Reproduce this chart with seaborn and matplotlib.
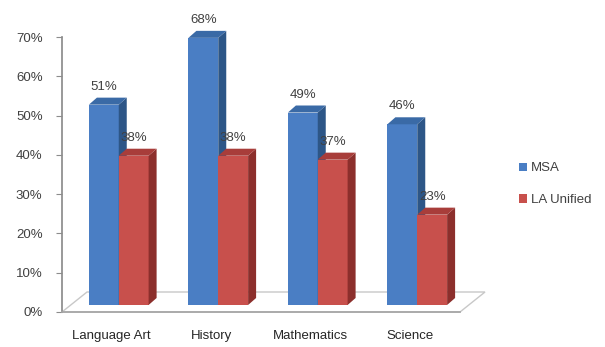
import matplotlib
matplotlib.use("Agg")
import matplotlib.pyplot as plt
import matplotlib.transforms as mtrans
from matplotlib.patches import Polygon, Rectangle
import seaborn as sns
import pandas as pd

categories = ["Language Art", "History", "Mathematics", "Science"]
series = ["MSA", "LA Unified"]
msa = [0.51, 0.68, 0.49, 0.46]
la_unified = [0.38, 0.38, 0.37, 0.23]
y_ticks = [0, 0.1, 0.2, 0.3, 0.4, 0.5, 0.6, 0.7]

df = pd.DataFrame({
    "Subject": categories * 2,
    "Series": [series[0]] * 4 + [series[1]] * 4,
    "Value": msa + la_unified,
})

sns.set_theme(style="white")
plt.rcParams["font.family"] = ["Liberation Sans", "DejaVu Sans"]

W, H, DPI = 605, 347, 100
fig = plt.figure(figsize=(W / DPI, H / DPI), dpi=DPI)
ax_l, ax_r, ax_b, ax_t = 62 / W, 460 / W, 1 - 312 / H, 1 - 37 / H
ax = fig.add_axes([ax_l, ax_b, ax_r - ax_l, ax_t - ax_b])

front = {"MSA": "#4a7ec4", "LA Unified": "#c8504c"}
side = {"MSA": "#2d5687", "LA Unified": "#8c2f2c"}
top = {"MSA": "#3a6aa6", "LA Unified": "#a83d3a"}

sns.barplot(data=df, x="Subject", y="Value", hue="Series", order=categories,
            hue_order=series, palette=front, width=0.6, saturation=1,
            errorbar=None, legend=False, ax=ax)

ax.set_xlim(-0.5, 3.5)
ax.set_ylim(0, 0.7)

# pixel -> data conversion
px_x = (ax_r - ax_l) * W / 4.0
px_y = (ax_t - ax_b) * H / 0.7

def dx(p):
    return p / px_x

def dy(p):
    return p / px_y

# floor (parallelogram in front of the 0 line)
fd_x, fd_y = 25, 20
floor = Polygon([(-0.5, 0), (3.5, 0), (3.5 + dx(fd_x), dy(fd_y)), (-0.5 + dx(fd_x), dy(fd_y))],
                closed=True, facecolor="white", edgecolor="#c8c8c8", lw=1.0,
                zorder=0.5, clip_on=False)
ax.add_patch(floor)

# bars shifted into the floor, with 3D faces
shift = mtrans.ScaledTranslation(7 / DPI, 7 / DPI, fig.dpi_scale_trans)
tr = ax.transData + shift
depth_x, depth_y = dx(8), dy(7)

bar_patches = [p for p in list(ax.patches) if isinstance(p, Rectangle) and p.get_height() > 0]
for i, p in enumerate(bar_patches):
    s = series[0] if i < len(categories) else series[1]
    z = 2 if s == series[0] else 3
    p.set_transform(tr)
    p.set_zorder(z)
    p.set_clip_on(False)
    p.set_edgecolor("none")
    x0 = p.get_x()
    x1 = x0 + p.get_width()
    h = p.get_height()
    sidep = Polygon([(x1, 0), (x1 + depth_x, depth_y), (x1 + depth_x, h + depth_y), (x1, h)],
                    closed=True, facecolor=side[s], edgecolor="none", transform=tr,
                    zorder=z, clip_on=False)
    topp = Polygon([(x0, h), (x1, h), (x1 + depth_x, h + depth_y), (x0 + depth_x, h + depth_y)],
                   closed=True, facecolor=top[s], edgecolor="none", transform=tr,
                   zorder=z, clip_on=False)
    ax.add_patch(sidep)
    ax.add_patch(topp)
    ax.annotate(f"{round(h * 100):d}%", xy=(x0 + p.get_width() / 2, h), xycoords=tr,
                xytext=(0, 18), textcoords="offset pixels", ha="center", va="center",
                fontsize=9.5, color="#404040", zorder=5, annotation_clip=False)

# axes styling
sns.despine(ax=ax, top=True, right=True)
ax.spines["left"].set_color("#8c8c8c")
ax.spines["bottom"].set_color("#a6a6a6")
ax.set_yticks(y_ticks)
ax.set_yticklabels([f"{int(round(t * 100))}%" for t in y_ticks], fontsize=9.5, color="#404040")
ax.set_xticks(range(len(categories)))
ax.set_xticklabels(categories, fontsize=9.5, color="#262626")
ax.set_xticks([0.5, 1.5, 2.5, 3.5], minor=True)
ax.tick_params(axis="x", which="major", length=0, pad=13)
ax.tick_params(axis="x", which="minor", length=7, color="#a6a6a6", width=0.8, direction="out")
ax.tick_params(axis="y", length=4, color="#8c8c8c", width=0.8, direction="out", pad=10, left=True)
ax.set_xlabel("")
ax.set_ylabel("")
ax.grid(False)

handles = [Rectangle((0, 0), 1, 1, facecolor=front[s], edgecolor="none") for s in series]
fig.legend(handles, series, loc="center left", bbox_to_anchor=(0.838, 0.469), frameon=False,
           fontsize=9.5, handlelength=0.6, handleheight=0.6, handletextpad=0.3,
           labelspacing=1.5, labelcolor="#404040")

fig.savefig("out.png", dpi=DPI)
